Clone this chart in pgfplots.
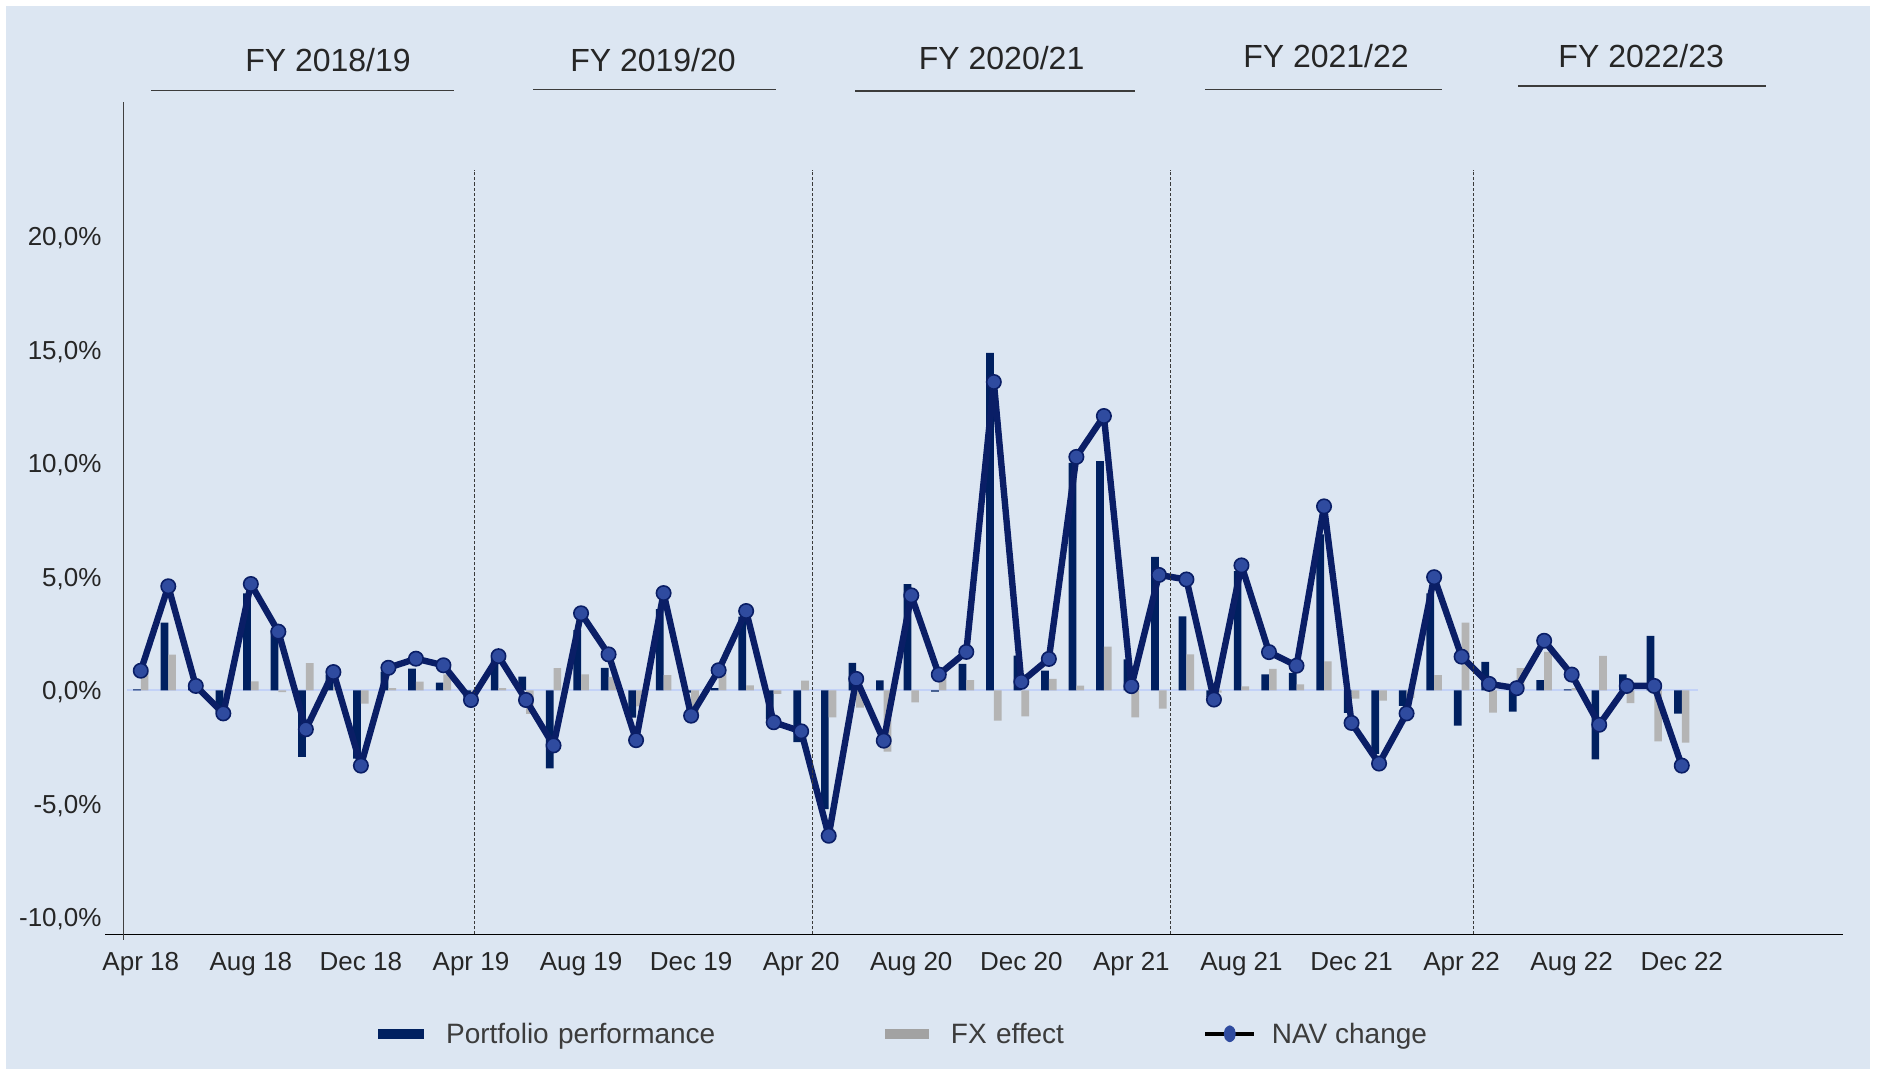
\documentclass[border=0pt]{standalone}
\usepackage{pgfplots}
\usepackage{pgfplotstable}
\pgfplotsset{compat=1.18}
\usepackage{fontspec}
\setmainfont{Liberation Sans}
\definecolor{bg}{HTML}{DCE6F2}
\definecolor{navy}{HTML}{002060}
\definecolor{navyline}{HTML}{0A1E66}
\definecolor{markblue}{HTML}{2F4B9F}
\definecolor{fxgray}{HTML}{B4B4B4}
\definecolor{zeroblue}{HTML}{C3D2F7}
\definecolor{txt}{HTML}{262626}
\definecolor{dashgray}{HTML}{3A3A3A}

\pgfplotstableread{
i P F N
0 0.05 0.82 0.87
1 2.99 1.58 4.59
2 0.12 0.08 0.20
3 -0.95 -0.05 -1.01
4 4.28 0.40 4.69
5 2.66 -0.07 2.59
6 -2.92 1.20 -1.71
7 0.70 0.11 0.81
8 -3.00 -0.58 -3.31
9 0.83 0.10 1.00
10 0.96 0.39 1.40
11 0.35 0.71 1.11
12 -0.30 -0.12 -0.42
13 1.40 0.10 1.51
14 0.61 -1.03 -0.42
15 -3.43 0.99 -2.42
16 2.66 0.71 3.40
17 1.00 0.60 1.59
18 -1.20 -0.70 -2.19
19 3.58 0.68 4.29
20 -0.10 -1.00 -1.11
21 0.10 0.73 0.89
22 3.25 0.23 3.50
23 -1.26 -0.15 -1.40
24 -2.28 0.43 -1.80
25 -5.23 -1.18 -6.40
26 1.22 -0.76 0.51
27 0.45 -2.69 -2.21
28 4.69 -0.52 4.19
29 -0.05 0.61 0.70
30 1.17 0.46 1.70
31 14.87 -1.33 13.59
32 1.53 -1.14 0.38
33 0.87 0.51 1.39
34 10.03 0.21 10.29
35 10.10 1.93 12.09
36 1.37 -1.19 0.19
37 5.89 -0.80 5.09
38 3.26 1.59 4.89
39 -0.30 -0.10 -0.40
40 5.26 0.18 5.51
41 0.71 0.95 1.69
42 0.78 0.27 1.09
43 6.88 1.28 8.11
44 -0.99 -0.36 -1.43
45 -2.79 -0.45 -3.22
46 -0.68 -0.33 -1.01
47 4.28 0.68 4.99
48 -1.55 2.99 1.49
49 1.26 -0.98 0.29
50 -0.93 0.99 0.10
51 0.46 1.70 2.19
52 0.05 0.10 0.70
53 -3.03 1.52 -1.51
54 0.71 -0.56 0.20
55 2.40 -2.24 0.20
56 -1.02 -2.30 -3.31
}\data

\begin{document}
\begin{tikzpicture}
\fill[white] (0pt,0pt) rectangle (939.5pt,537.5pt);
\fill[bg] (3pt,3pt) rectangle (935pt,534.5pt);
\begin{axis}[
  at={(61.85pt,70.25pt)}, anchor=south west,
  scale only axis, width=859.65pt, height=416.25pt,
  xmin=-0.62, xmax=61.86, ymin=-10.75, ymax=25.925,
  axis x line=bottom, axis y line=left,
  axis line style={-},
  x axis line style={black, line width=0.9pt},
  y axis line style={black!75, line width=0.6pt},
  xtick={0,4,...,56},
  xticklabels={Apr 18, Aug 18, Dec 18, Apr 19, Aug 19, Dec 19, Apr 20, Aug 20, Dec 20, Apr 21, Aug 21, Dec 21, Apr 22, Aug 22, Dec 22},
  ytick={-10,-5,...,20},
  major tick length=0pt,
  /pgf/number format/assume math mode=true,
  tick label style={font=\fontsize{13}{15}\selectfont, text=txt},
  xticklabel style={anchor=base, yshift=-18pt, inner sep=0pt},
  yticklabel style={anchor=base east, xshift=-10.9pt, yshift=-4.65pt, inner sep=0pt},
  yticklabel={\pgfmathprintnumber[fixed, fixed zerofill, precision=1, use comma]{\tick}\%},
  clip=false,
  legend columns=3,
  legend cell align=left,
  legend style={at={(0.1482,-0.1200)}, anchor=west, draw=none, fill=none,
    inner sep=0pt, outer sep=0pt,
    font=\fontsize{14}{16}\selectfont, text=txt!90,
    nodes={inner sep=0pt},
    /tikz/every odd column/.append style={column sep=10.8pt}},
]
\addplot[zeroblue, line width=1pt, forget plot] coordinates {(-0.5,0) (56.58,0)};
\addplot[ybar, bar width=0.28, bar shift=-0.14, fill=navy, draw=none,
  legend image code/.code={\fill[navy] (0pt,-2.2pt) rectangle (23pt,2.8pt);}]
  table[x=i, y=P] {\data};
\addlegendentry[text width=219.6pt]{Portfolio performance}
\addplot[ybar, bar width=0.28, bar shift=0.14, fill=fxgray, draw=none,
  legend image code/.code={\fill[fxgray!90!black] (0pt,-2.2pt) rectangle (22pt,2.8pt);}]
  table[x=i, y=F] {\data};
\addlegendentry[text width=126.2pt]{FX effect}
\addplot[navyline, line width=3.2pt, line join=round, mark=*, mark size=3.6pt,
  mark options={fill=markblue, draw=navyline, line width=0.8pt},
  legend image code/.code={\draw[black, line width=2pt] (0pt,0.3pt) -- (21.5pt,0.3pt);
     \draw[black, line width=2pt, overlay] (21.4pt,0.3pt) -- (24.5pt,0.3pt);
     \fill[markblue] (12.25pt,0.3pt) ellipse (1.4pt and 2.6pt);}]
  table[x=i, y=N] {\data};
\addlegendentry{NAV change}
\foreach \xx in {12.12,24.41,37.43,48.44}{
  \edef\tmp{\noexpand\draw[dashgray, line width=0.65pt, dash pattern=on 1.6pt off 1.0pt] (axis cs:\xx,-10.75) -- (axis cs:\xx,22.93);}
  \tmp
}
\end{axis}
\draw[black, line width=0.9pt] (52.7pt,70.25pt) -- (61.85pt,70.25pt);
\draw[black!75, line width=0.6pt] (61.85pt,70.25pt) -- (61.85pt,67.3pt);
\begin{scope}[every node/.style={font=\fontsize{16}{18}\selectfont, text=txt, inner sep=0pt, anchor=base}]
\node at (164pt,501.65pt) {FY 2018/19};
\node at (326.5pt,501.65pt) {FY 2019/20};
\node at (500.8pt,502.9pt) {FY 2020/21};
\node at (663pt,503.5pt) {FY 2021/22};
\node at (820.6pt,503.5pt) {FY 2022/23};
\end{scope}
\begin{scope}[txt!90, line width=0.7pt]
\draw (75.5pt,492.15pt) -- (227pt,492.15pt);
\draw (266.5pt,492.6pt) -- (388.2pt,492.6pt);
\draw (427.7pt,492pt) -- (567.3pt,492pt);
\draw (602.6pt,492.6pt) -- (721.2pt,492.6pt);
\draw (759pt,494.4pt) -- (883pt,494.4pt);
\end{scope}
\end{tikzpicture}
\end{document}
